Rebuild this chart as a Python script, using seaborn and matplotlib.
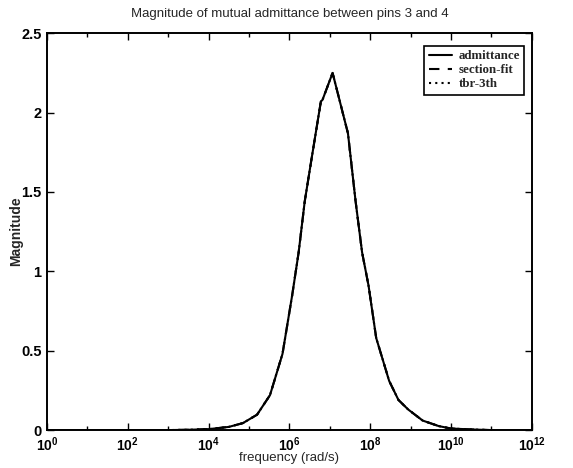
import numpy as np
import pandas as pd
import matplotlib
matplotlib.use("Agg")
import matplotlib.pyplot as plt
import seaborn as sns
from matplotlib.ticker import FixedLocator, LogFormatterMathtext, NullFormatter

# ---- data (log10 of frequency in rad/s, magnitude) ----
log_freq = [0, 1, 2, 3, 3.5, 4.0, 4.5, 4.85, 5.2, 5.52, 5.83, 6.07, 6.23, 6.38,
            6.55, 6.78, 6.82, 7.07, 7.45, 7.64, 7.8, 7.96, 8.15, 8.47, 8.70,
            8.94, 9.3, 9.7, 10.0, 10.5, 11, 12]
admittance = [0, 0, 0, 0.0, 0.002, 0.006, 0.02, 0.044, 0.097, 0.22, 0.48, 0.85,
              1.12, 1.44, 1.71, 2.07, 2.08, 2.25, 1.87, 1.44, 1.12, 0.91, 0.58,
              0.31, 0.19, 0.13, 0.06, 0.025, 0.01, 0.004, 0.0, 0.0]
section_fit = list(admittance)
tbr_3th = list(admittance)
series_names = ["admittance", "section-fit", "tbr-3th"]
title = "Magnitude of mutual admittance between pins 3 and 4"
xlabel = "frequency (rad/s)"
ylabel = "Magnitude"
yticks = [0, 0.5, 1, 1.5, 2, 2.5]
ytick_labels = ["0", "0.5", "1", "1.5", "2", "2.5"]

freq = [10.0 ** v for v in log_freq]
frames = []
for name, vals in zip(series_names, [admittance, section_fit, tbr_3th]):
    frames.append(pd.DataFrame({"freq": freq, "mag": vals, "series": name}))
df = pd.concat(frames, ignore_index=True)

sns.set_style("ticks")
plt.rcParams["font.family"] = ["Liberation Sans", "DejaVu Sans"]
plt.rcParams["mathtext.default"] = "regular"

fig = plt.figure(figsize=(5.73, 4.68), dpi=100)
ax = fig.add_axes([0.082, 0.081, 0.846, 0.848])

styles = {"admittance": "-", "section-fit": (0, (5, 4)), "tbr-3th": (0, (1, 2))}
for name in series_names:
    sub = df[df["series"] == name]
    sns.lineplot(data=sub, x="freq", y="mag", ax=ax, color="black",
                 linewidth=1.5, label=name)
    ax.get_lines()[-1].set_linestyle(styles[name])

ax.set_xscale("log")
ax.set_xlim(1, 1e12)
ax.set_ylim(0, 2.5)
ax.xaxis.set_major_locator(FixedLocator([10.0 ** k for k in range(0, 13, 2)]))
ax.xaxis.set_minor_locator(FixedLocator([10.0 ** k for k in range(1, 12, 2)]))
ax.xaxis.set_major_formatter(LogFormatterMathtext())
ax.xaxis.set_minor_formatter(NullFormatter())
ax.set_yticks(yticks)
ax.set_yticklabels(ytick_labels)
ax.tick_params(axis="both", which="both", top=True, right=True, direction="in",
               labelsize=10.5, width=1.0, colors="black")
ax.tick_params(axis="both", which="major", length=5)
ax.tick_params(axis="x", which="minor", length=3)
ax.tick_params(axis="y", which="major", pad=4)
ax.tick_params(axis="x", which="major", pad=3.5, labelsize=10)
for lab in ax.get_xticklabels() + ax.get_yticklabels():
    lab.set_fontweight("bold")
for sp in ax.spines.values():
    sp.set_linewidth(1.4)
    sp.set_color("black")

ax.set_title(title, fontsize=9.5, pad=12)
ax.set_xlabel(xlabel, fontsize=9.5)
ax.xaxis.set_label_coords(0.5, -0.056)
ax.set_ylabel(ylabel, fontsize=10, fontweight="bold")
ax.yaxis.set_label_coords(-0.05, 0.5)

leg = ax.legend(loc="upper right", bbox_to_anchor=(0.99, 0.975), frameon=True,
                fancybox=False, edgecolor="black", handlelength=1.8,
                prop={"family": "Liberation Serif", "size": 9.3, "weight": "bold"},
                borderpad=0.35, labelspacing=0.15, handletextpad=0.5, borderaxespad=0.2)
leg.get_frame().set_linewidth(1.2)
leg.get_frame().set_alpha(1)

fig.savefig("out.png", dpi=100)
